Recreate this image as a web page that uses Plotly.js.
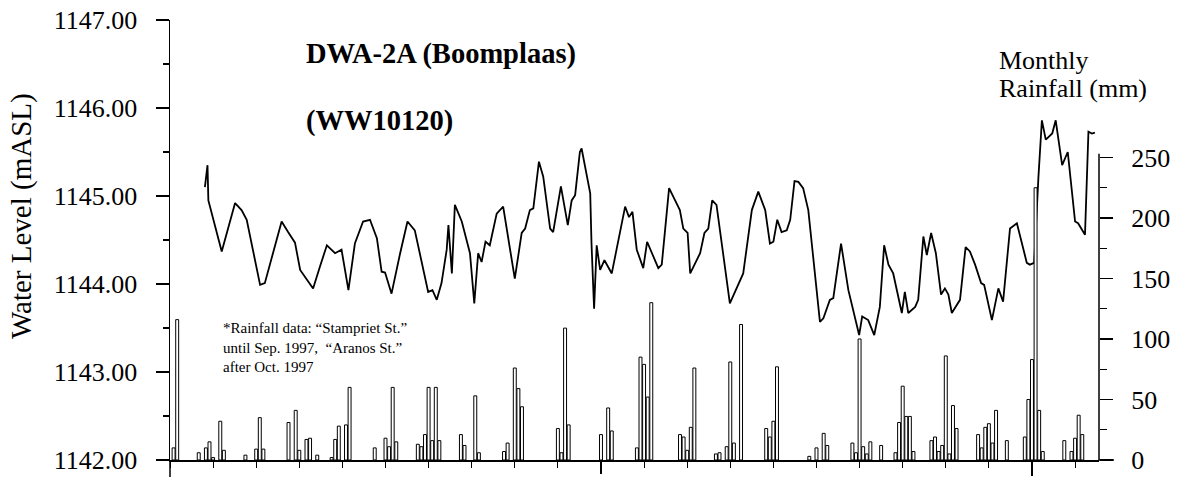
<!DOCTYPE html>
<html>
<head>
<meta charset="utf-8">
<script src="https://cdn.plot.ly/plotly-3.0.1.min.js"></script>
<style>html,body{margin:0;padding:0;background:#fff;}#chart{width:1177px;height:477px;}</style>
</head>
<body>
<div id="chart"></div>
<script>
const levelTime = [1980.81,1980.87,1980.89,1981.20,1981.51,1981.66,1981.78,1982.09,1982.20,1982.59,1982.74,1982.90,1983.02,1983.32,1983.48,1983.64,1983.83,1983.98,1984.14,1984.29,1984.48,1984.64,1984.80,1984.91,1984.99,1985.14,1985.34,1985.51,1985.68,1985.84,1985.99,1986.09,1986.19,1986.30,1986.42,1986.46,1986.54,1986.61,1986.77,1986.96,1987.06,1987.15,1987.23,1987.32,1987.42,1987.58,1987.73,1988.00,1988.16,1988.24,1988.35,1988.43,1988.56,1988.66,1988.82,1988.89,1989.07,1989.23,1989.32,1989.40,1989.51,1989.55,1989.67,1989.75,1989.78,1989.84,1989.90,1989.98,1990.08,1990.25,1990.36,1990.44,1990.56,1990.65,1990.73,1990.83,1990.98,1991.07,1991.33,1991.41,1991.58,1991.72,1991.83,1991.91,1992.01,1992.07,1992.30,1992.40,1992.49,1992.58,1992.68,1992.99,1993.30,1993.50,1993.65,1993.81,1993.92,1994.00,1994.09,1994.19,1994.31,1994.39,1994.49,1994.58,1994.69,1994.81,1995.08,1995.16,1995.31,1995.39,1995.57,1995.74,1995.99,1996.06,1996.20,1996.34,1996.47,1996.57,1996.67,1996.78,1996.98,1997.05,1997.13,1997.29,1997.36,1997.48,1997.56,1997.66,1997.77,1997.89,1997.98,1998.06,1998.14,1998.33,1998.46,1998.56,1998.68,1998.82,1998.89,1999.07,1999.22,1999.33,1999.49,1999.65,1999.75,1999.88,1999.95,2000.05,2000.15,2000.23,2000.32,2000.42,2000.47,2000.55,2000.70,2000.83,2001.00,2001.07,2001.23,2001.31,2001.39,2001.46];
const levelMASL = [1145.10,1145.35,1144.95,1144.37,1144.92,1144.84,1144.73,1143.99,1144.01,1144.71,1144.59,1144.47,1144.16,1143.95,1144.20,1144.44,1144.35,1144.39,1143.93,1144.46,1144.71,1144.73,1144.52,1144.14,1144.13,1143.89,1144.35,1144.71,1144.61,1144.24,1143.91,1143.93,1143.82,1144.01,1144.39,1144.67,1144.12,1144.90,1144.71,1144.35,1143.78,1144.35,1144.25,1144.48,1144.44,1144.80,1144.88,1144.06,1144.58,1144.63,1144.84,1144.86,1145.39,1145.22,1144.63,1144.59,1145.11,1144.67,1144.95,1145.01,1145.50,1145.54,1145.22,1145.03,1144.46,1143.72,1144.44,1144.16,1144.27,1144.12,1144.39,1144.60,1144.88,1144.76,1144.82,1144.39,1144.18,1144.48,1144.18,1144.22,1145.09,1144.95,1144.84,1144.63,1144.58,1144.12,1144.35,1144.58,1144.63,1144.95,1144.90,1143.78,1144.12,1144.84,1145.05,1144.84,1144.46,1144.48,1144.73,1144.59,1144.61,1144.73,1145.17,1145.16,1145.09,1144.84,1143.57,1143.61,1143.82,1143.84,1144.46,1143.93,1143.42,1143.63,1143.59,1143.42,1143.74,1144.44,1144.22,1144.12,1143.67,1143.91,1143.67,1143.74,1143.82,1144.54,1144.33,1144.58,1144.35,1143.88,1143.95,1143.88,1143.67,1143.82,1144.42,1144.37,1144.22,1144.01,1143.99,1143.59,1143.95,1143.80,1144.63,1144.69,1144.48,1144.24,1144.22,1144.24,1145.22,1145.86,1145.64,1145.69,1145.71,1145.86,1145.35,1145.50,1144.71,1144.69,1144.56,1145.73,1145.71,1145.72];

// Monthly rainfall (mm)
const rainMonth = ['1980-02','1980-03','1980-09','1980-11','1980-12','1981-01','1981-03','1981-04','1981-10','1982-01','1982-02','1982-03','1982-10','1982-12','1983-01','1983-03','1983-04','1983-06','1983-10','1983-11','1983-12','1984-02','1984-03','1984-10','1985-01','1985-02','1985-03','1985-04','1985-10','1985-11','1985-12','1986-01','1986-02','1986-03','1986-04','1986-10','1986-11','1987-02','1987-03','1987-10','1987-11','1988-01','1988-02','1988-03','1989-01','1989-02','1989-03','1989-04','1990-01','1990-03','1990-04','1990-11','1990-12','1991-01','1991-02','1991-03','1991-11','1991-12','1992-01','1992-02','1992-03','1992-09','1992-10','1992-12','1993-01','1993-02','1993-04','1993-11','1993-12','1994-01','1994-02','1994-11','1995-01','1995-03','1995-04','1995-11','1995-12','1996-01','1996-02','1996-03','1996-04','1996-07','1996-11','1996-12','1997-01','1997-02','1997-03','1997-04','1997-09','1997-10','1997-11','1997-12','1998-01','1998-02','1998-03','1998-04','1998-10','1998-11','1998-12','1999-01','1999-02','1999-03','1999-06','1999-11','1999-12','2000-01','2000-02','2000-03','2000-04','2000-10','2000-12','2001-01','2001-02','2001-03'];
const rainMM = [10,116,6,10,15,2,32,8,4,9,35,9,31,41,8,17,18,4,2,17,28,29,60,10,18,11,60,15,13,11,21,60,16,60,16,21,12,53,6,7,14,76,59,44,26,6,109,29,21,43,24,10,85,79,52,130,21,19,8,27,76,5,6,11,81,14,112,26,19,32,77,3,10,22,12,14,6,100,11,5,15,12,6,31,61,36,36,7,16,19,7,12,86,5,45,26,21,10,27,30,14,41,16,19,50,83,225,41,7,16,7,18,37,21];

// Axis ticks
const levelTicks = [1142,1143,1144,1145,1146,1147];
const rainTicks = [0,50,100,150,200,250];
const rainMinorTicks = [25,75,125,175,225];

const rainX = rainMonth.map(s => { const [y, m] = s.split('-').map(Number); return y + (m - 1) / 12; });

// plot area in pixels: x 170..1099, y 20..460
const PX = p => (p - 170) / 929;
const PY = p => (460 - p) / 440;
const serif = 'Liberation Serif, Times New Roman, serif';

const traces = [
  {
    type: 'bar', x: rainX, y: rainMM, yaxis: 'y2', width: 0.82 / 12,
    marker: { color: '#ffffff', line: { color: '#000000', width: 1 } },
    hoverinfo: 'skip', showlegend: false
  },
  {
    type: 'scatter', mode: 'lines', x: levelTime, y: levelMASL,
    line: { color: '#000000', width: 1.8 }, showlegend: false, hoverinfo: 'skip'
  }
];

const layout = {
  width: 1177, height: 477,
  margin: { l: 170, r: 78, t: 20, b: 17 },
  paper_bgcolor: '#ffffff', plot_bgcolor: '#ffffff',
  font: { family: serif, color: '#000000' },
  showlegend: false,
  xaxis: {
    range: [1980, 2001.555], showgrid: false, zeroline: false,
    showline: true, linecolor: '#000000', linewidth: 1.5,
    ticks: 'outside', tick0: 1980, dtick: 1, ticklen: 6, tickwidth: 1, tickcolor: '#000',
    showticklabels: false
  },
  yaxis: {
    range: [1142, 1147], showgrid: false, zeroline: false,
    showline: true, linecolor: '#000000', linewidth: 1.5,
    tickmode: 'array', tickvals: levelTicks, ticktext: levelTicks.map(v => v.toFixed(2)),
    ticks: 'outside', ticklen: 13, tickwidth: 1.2, tickcolor: '#000',
    ticklabelstandoff: 13,
    minor: { dtick: 0.5, tick0: 1142, ticks: 'outside', ticklen: 6, tickcolor: '#000' },
    tickfont: { family: serif, size: 26, color: '#000' }
  },
  yaxis2: {
    overlaying: 'y', side: 'right', range: [0, 363.6],
    showgrid: false, zeroline: false, showline: false,
    tickmode: 'array', tickvals: rainTicks, ticktext: rainTicks.map(String),
    ticks: 'outside', ticklen: 13, tickwidth: 1.2, tickcolor: '#000',
    ticklabelstandoff: 13,
    minor: { tickmode: 'array', tickvals: rainMinorTicks, ticks: 'outside', ticklen: 7, tickcolor: '#000' },
    tickfont: { family: serif, size: 26, color: '#000' }
  },
  shapes: [
    { type: 'line', xref: 'paper', yref: 'y2', x0: 1, x1: 1, y0: 0, y1: 253, line: { color: '#000', width: 1.5 } },
    { type: 'line', xref: 'paper', yref: 'paper', x0: 0, x1: 0, y0: 0, y1: PY(477), line: { color: '#000', width: 1.5 } },
    { type: 'line', xref: 'paper', yref: 'paper', x0: 1, x1: PX(1114), y0: 0, y1: 0, line: { color: '#000', width: 1.5 } },
    { type: 'line', xref: 'x', yref: 'paper', x0: 1990, x1: 1990, y0: 0, y1: PY(474), line: { color: '#000', width: 2 } },
    { type: 'line', xref: 'x', yref: 'paper', x0: 2000, x1: 2000, y0: 0, y1: PY(476), line: { color: '#000', width: 2 } }
  ],
  annotations: [
    { text: '<b>DWA-2A (Boomplaas)</b>', xref: 'paper', yref: 'paper', x: PX(304), y: PY(54), xanchor: 'left', yanchor: 'middle', showarrow: false, font: { family: serif, size: 28.5, color: '#000' } },
    { text: '<b>(WW10120)</b>', xref: 'paper', yref: 'paper', x: PX(304), y: PY(121), xanchor: 'left', yanchor: 'middle', showarrow: false, font: { family: serif, size: 28.5, color: '#000' } },
    { text: 'Monthly', xref: 'paper', yref: 'paper', x: PX(997), y: PY(60), xanchor: 'left', yanchor: 'middle', showarrow: false, font: { family: serif, size: 26, color: '#000' } },
    { text: 'Rainfall (mm)', xref: 'paper', yref: 'paper', x: PX(997), y: PY(88), xanchor: 'left', yanchor: 'middle', showarrow: false, font: { family: serif, size: 26, color: '#000' } },
    { text: 'Water Level (mASL)', textangle: -90, xref: 'paper', yref: 'paper', x: PX(21), y: PY(216), xanchor: 'center', yanchor: 'middle', showarrow: false, font: { family: serif, size: 29, color: '#000' } },
    { text: '*Rainfall data: \u201cStampriet St.\u201d<br>until Sep. 1997,  \u201cAranos St.\u201d<br>after Oct. 1997', align: 'left', xref: 'paper', yref: 'paper', x: PX(221), y: PY(347), xanchor: 'left', yanchor: 'middle', showarrow: false, font: { family: serif, size: 15, color: '#000' } }
  ]
};

Plotly.newPlot('chart', traces, layout, { displayModeBar: false, staticPlot: true });
</script>
</body>
</html>
